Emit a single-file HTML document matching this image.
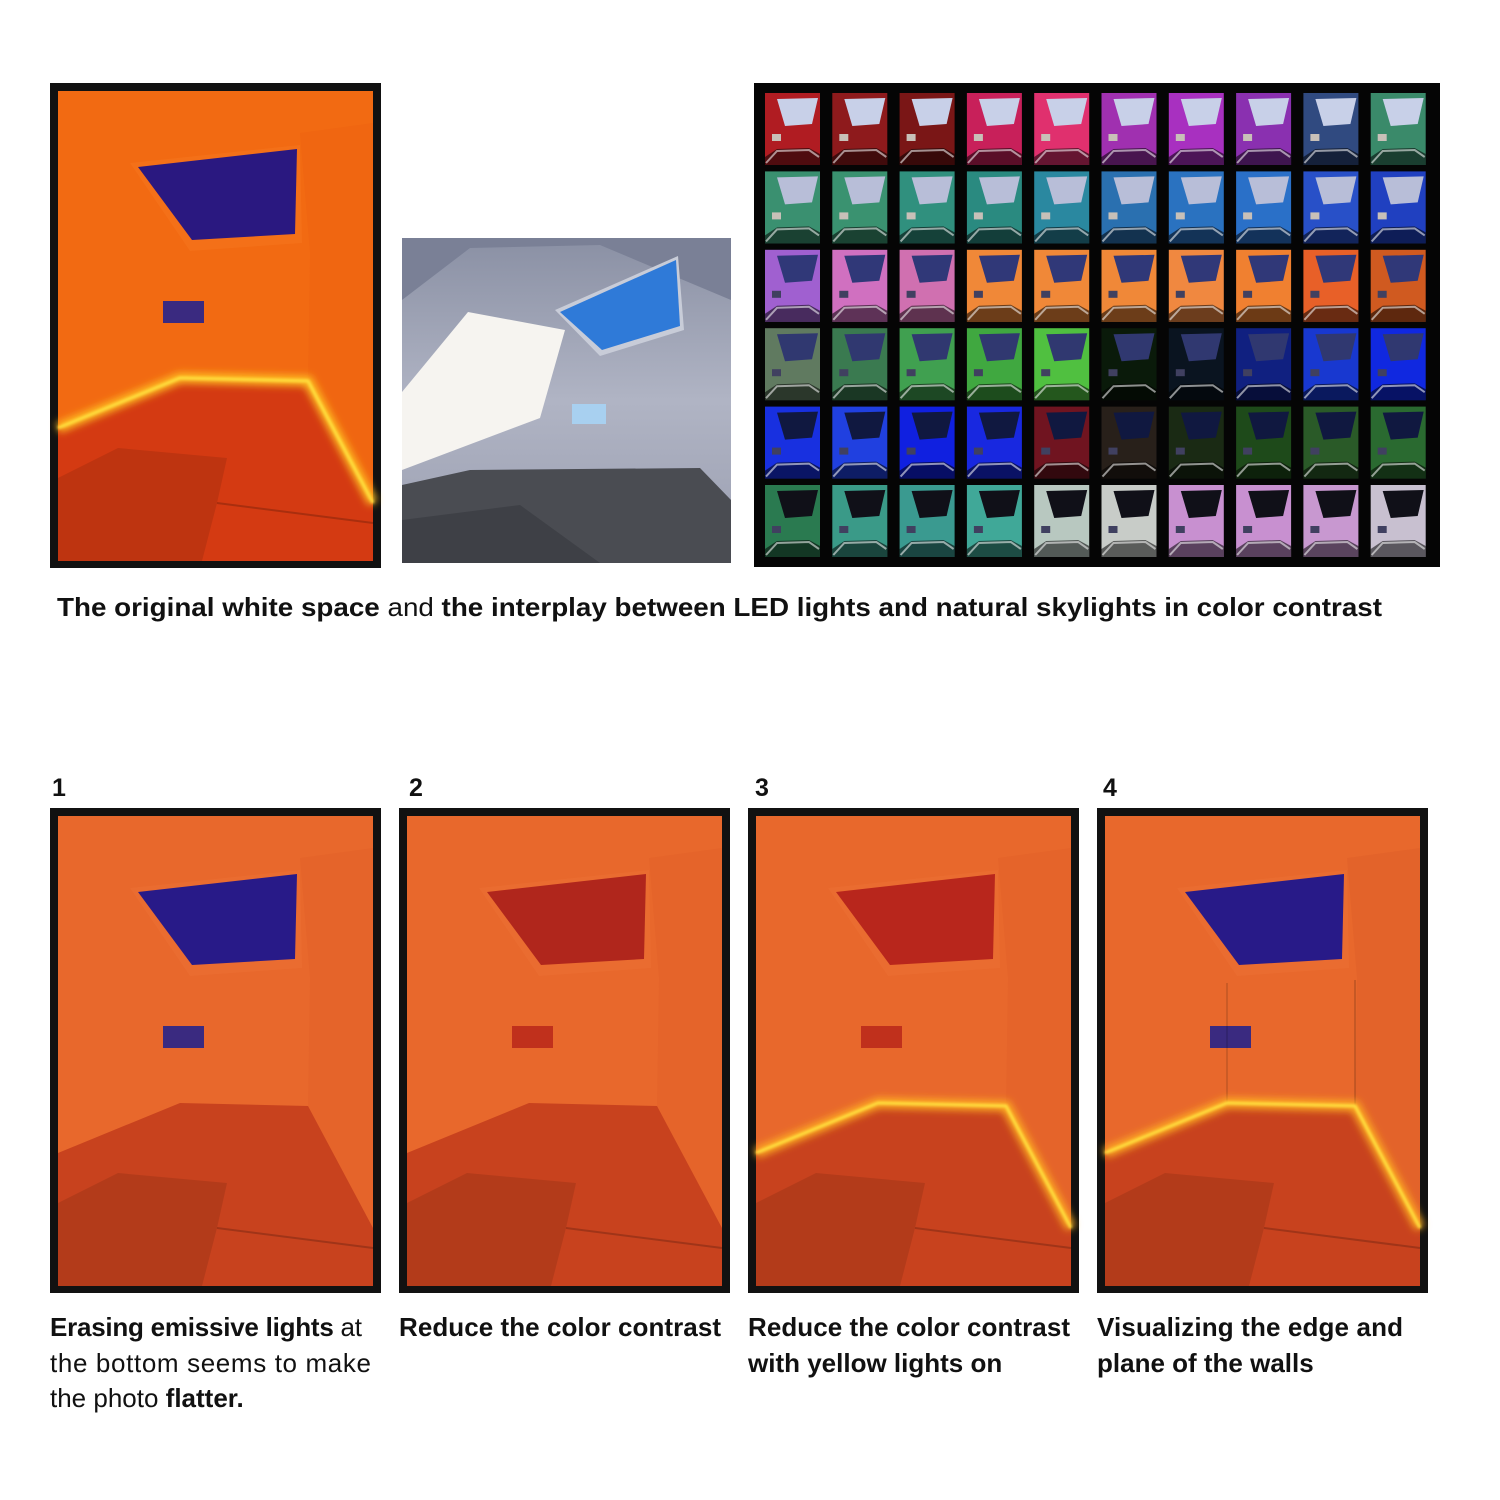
<!DOCTYPE html>
<html><head><meta charset="utf-8">
<style>
html,body{margin:0;padding:0;background:#fff;}
svg{display:block;}
text{font-family:"Liberation Sans",sans-serif;fill:#111;}
</style></head>
<body>
<svg id="s" width="1500" height="1500" viewBox="0 0 1500 1500">
<defs>
<filter id="blur" x="-20%" y="-20%" width="140%" height="140%"><feGaussianBlur stdDeviation="4"/></filter>
<filter id="blur2" x="-20%" y="-20%" width="140%" height="140%"><feGaussianBlur stdDeviation="1.2"/></filter>
<linearGradient id="greyWall" x1="0" y1="0" x2="0" y2="1"><stop offset="0" stop-color="#8a90a4"/><stop offset="0.5" stop-color="#b0b4c4"/><stop offset="1" stop-color="#9a9eb0"/></linearGradient>
</defs>
<g id="photos"></g>
<g id="mid">
  <rect x="402" y="238" width="329" height="325" fill="url(#greyWall)"/>
  <polygon points="402,238 731,238 731,300 600,245 470,248 402,300" fill="#7a8096"/>
  <polygon points="555,310 678,256 684,330 600,356" fill="#c8ccd8"/>
  <polygon points="560,312 676,260 680,326 602,350" fill="#2f7ad8"/>
  <polygon points="402,392 468,312 565,330 540,418 402,470" fill="#f6f4f0"/>
  <rect x="572" y="404" width="34" height="20" fill="#a8d0f0"/>
  <polygon points="402,485 470,470 700,468 731,500 731,563 402,563" fill="#4a4c52"/>
  <polygon points="402,520 520,505 600,563 402,563" fill="#3e4046"/>
</g>
<g id="grid"><rect x="754" y="83" width="686" height="484" fill="#050505"/></g>
<text x="57" y="616" font-size="26" textLength="1325" lengthAdjust="spacingAndGlyphs"><tspan font-weight="bold">The original white space</tspan> and <tspan font-weight="bold">the interplay between LED lights and natural skylights in color contrast</tspan></text>
<text x="52" y="796" font-size="25" font-weight="bold">1</text>
<text x="409" y="796" font-size="25" font-weight="bold">2</text>
<text x="755" y="796" font-size="25" font-weight="bold">3</text>
<text x="1103" y="796" font-size="25" font-weight="bold">4</text>
<g font-size="26">
<text x="50" y="1336" textLength="312"><tspan font-weight="bold">Erasing emissive lights</tspan> at</text>
<text x="50" y="1372" textLength="321">the bottom seems to make</text>
<text x="50" y="1407">the photo <tspan font-weight="bold">flatter.</tspan></text>
</g>
<text x="399" y="1336" font-size="26" font-weight="bold" textLength="322">Reduce the color contrast</text>
<g font-size="26" font-weight="bold">
<text x="748" y="1336" textLength="322">Reduce the color contrast</text>
<text x="748" y="1372">with yellow lights on</text>
</g>
<g font-size="26" font-weight="bold">
<text x="1097" y="1336" textLength="306">Visualizing the edge and</text>
<text x="1097" y="1372">plane of the walls</text>
</g>
</svg>
<script>
const NS="http://www.w3.org/2000/svg";
const thumbColors=[
["#b01c22","#8e1a1c","#7a1616","#c8205a","#e0306e","#a030b0","#a830c0","#8a30b0","#304a80","#3a8a6a"],
["#3a9070","#3a9270","#30907e","#2a8a80","#2a88a0","#2a70b0","#2a72c0","#2a70c8","#2850c8","#2040c0"],
["#a060d0","#d070c0","#d070b0","#f08838","#f08838","#f08838","#f08840","#f08030","#e86028","#d05a20"],
["#607a60","#3a7a50","#40a050","#40a840","#50c040","#0a1a0a","#0a1420","#102080","#1838d0","#1028e0"],
["#1830e0","#2040e0","#1020e0","#1828e0","#701420","#28201a","#1a2a14","#1e4a1a","#2a5a28","#2a6a30"],
["#2a7a50","#3a9a88","#3a9a90","#40a898","#b8c8c0","#c8ccc8","#c890d0","#c890d0","#c898d0","#c8c0d0"]];
const skyColors=["#c8d0e8","#b8bed8","#303878","#303870","#101840","#101018"];
function mk(tag,attrs,parent){const e=document.createElementNS(NS,tag);for(const k in attrs)e.setAttribute(k,attrs[k]);parent.appendChild(e);return e;}
const grid=document.getElementById('grid');
thumbColors.forEach((row,r)=>row.forEach((c,i)=>{
  const x=765+i*67.3, y=93+r*78.4;
  const g=mk('g',{transform:`translate(${x},${y})`},grid);
  
  
  mk('rect',{x:0,y:0,width:55,height:72,fill:c},g);
  mk('polygon',{points:"12,6 53,5 47,31 20,33",fill:skyColors[r]},g);
  mk('rect',{x:7,y:41,width:9,height:7,fill:r<2?"#c8c0b8":"#404060"},g);
  mk('polygon',{points:"0,64 12,56 44,55 55,61 55,72 0,72",fill:"rgba(0,0,0,0.55)"},g);
  mk('polyline',{points:"1,70 12,58 44,57 54,64",fill:"none",stroke:"rgba(255,255,255,0.55)","stroke-width":2},g);
}));
const photos=document.getElementById('photos');
function room(x,y,o,name){
  const g=mk('g',{transform:`translate(${x},${y})`},photos);
  
  
  mk('rect',{x:0,y:0,width:331,height:485,fill:"#111"},g);
  mk('rect',{x:8,y:8,width:315,height:470,fill:o.wall},g);
  mk('polygon',{points:"250,50 323,40 323,420 258,298 260,170",fill:o.side,opacity:0.6},g);
  mk('polygon',{points:"80,80 250,62 252,160 140,168",fill:o.ceil},g);
  mk('polygon',{points:"88,84 247,66 245,151 142,157",fill:o.sky},g);
  mk('rect',{x:113,y:218,width:41,height:22,fill:o.rect},g);
  if(o.edges){
    mk('line',{x1:130,y1:175,x2:130,y2:295,stroke:"rgba(0,0,0,0.12)","stroke-width":2},g);
    mk('line',{x1:258,y1:172,x2:258,y2:298,stroke:"rgba(0,0,0,0.15)","stroke-width":2},g);
  }
  mk('polygon',{points:"8,345 130,295 258,298 323,420 323,478 8,478",fill:o.floor},g);
  mk('polygon',{points:"8,395 68,365 177,375 167,420 152,478 8,478",fill:"rgba(0,0,0,0.1)"},g);
  mk('polyline',{points:"167,420 323,440",fill:"none",stroke:"rgba(0,0,0,0.2)","stroke-width":2},g);
  if(o.glow){
    mk('polyline',{points:"8,345 130,295 258,298 323,420",fill:"none",stroke:o.glow,"stroke-width":10,filter:"url(#blur)"},g);
    mk('polyline',{points:"8,345 130,295 258,298 323,420",fill:"none",stroke:"#ffe040","stroke-width":3,filter:"url(#blur2)"},g);
  }
}
room(50,83,{wall:"#f26a12",ceil:"#f47018",side:"#ee6410",floor:"#d43a12",sky:"#2a1880",rect:"#3a2a80",glow:"#ffc020"},'original-orange-photo');
room(50,808,{wall:"#e8682c",ceil:"#ea6c30",side:"#e2622a",floor:"#c8421e",sky:"#281a88",rect:"#3a2a80"},'variant-1-photo');
room(399,808,{wall:"#e8682c",ceil:"#ea6c30",side:"#e2622a",floor:"#c8421e",sky:"#b0261c",rect:"#c0301c"},'variant-2-photo');
room(748,808,{wall:"#e8682c",ceil:"#ea6c30",side:"#e2622a",floor:"#c8421e",sky:"#b8261c",rect:"#c0301c",glow:"#ffb020"},'variant-3-photo');
room(1097,808,{wall:"#e8682c",ceil:"#ea6c30",side:"#e0602a",floor:"#c8421e",sky:"#281a88",rect:"#3a2a80",glow:"#ffb020",edges:true},'variant-4-photo');
</script>
</body></html>
